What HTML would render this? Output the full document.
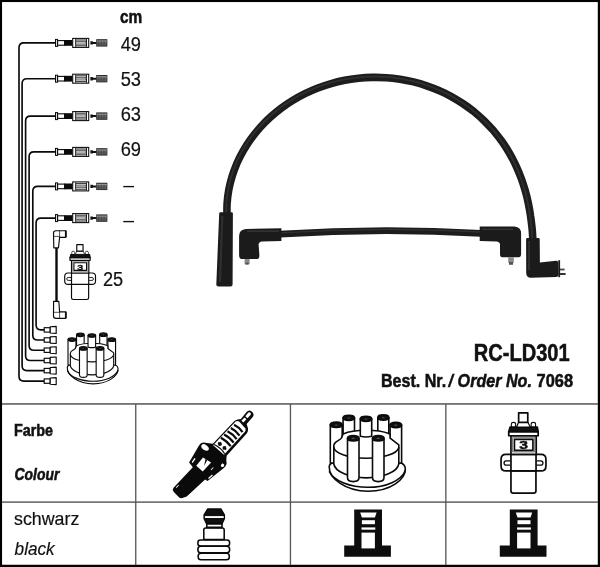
<!DOCTYPE html>
<html lang="de">
<head>
<meta charset="utf-8">
<title>RC-LD301</title>
<style>
html,body{margin:0;padding:0;background:#fff;}
body{width:600px;height:567px;overflow:hidden;position:relative;font-family:"Liberation Sans",sans-serif;}
svg{position:absolute;left:0;top:0;display:block;filter:grayscale(1);}
text{font-family:"Liberation Sans",sans-serif;fill:#111;}
.b{font-weight:bold;stroke:#111;stroke-width:0.55px;}
.r{stroke:#111;stroke-width:0.2px;}
.i{font-style:italic;}
</style>
</head>
<body>
<svg width="600" height="567" viewBox="0 0 600 567">
<rect x="0" y="0" width="600" height="567" fill="#fff"/>

<g id="frame" fill="#000">
<rect x="0" y="0" width="600" height="2.05"/>
<rect x="0" y="0" width="2.05" height="567"/>
<rect x="597.8" y="0" width="2.2" height="567"/>
<rect x="0" y="564.75" width="600" height="2.25"/>
</g>
<g id="grid" fill="#555">
<rect x="2" y="403.2" width="596" height="1.5"/>
<rect x="2" y="501.4" width="596" height="1.4"/>
<rect x="135.1" y="404" width="1.3" height="161"/>
<rect x="289.8" y="404" width="1.3" height="161"/>
<rect x="445.2" y="404" width="1.3" height="161"/>
</g>

<g id="labels">
<text class="b" transform="translate(120.0,23.3) scale(0.81,1)" font-size="19">cm</text>
<text class="r" transform="translate(120.7,50.5) scale(0.905,1)" font-size="20.2">49</text>
<text class="r" transform="translate(120.7,85.7) scale(0.905,1)" font-size="20.2">53</text>
<text class="r" transform="translate(120.7,120.9) scale(0.905,1)" font-size="20.2">63</text>
<text class="r" transform="translate(120.7,156.1) scale(0.905,1)" font-size="20.2">69</text>
<text class="" transform="translate(123.3,191.6) scale(0.96,1)" font-size="20.2">–</text>
<text class="" transform="translate(123.3,226.8) scale(0.96,1)" font-size="20.2">–</text>
<text class="r" transform="translate(103.0,285.6) scale(0.9,1)" font-size="20.2">25</text>
<text class="b" transform="translate(473.8,361.4) scale(0.822,1)" font-size="24.4">RC-LD301</text>
<text class="b" transform="translate(381.0,387.4) scale(0.855,1)" font-size="18.8">Best. Nr.</text>
<text class="b i" transform="translate(448.6,387.4) scale(0.855,1)" font-size="18.8">/</text>
<text class="b i" transform="translate(457.6,387.4) scale(0.858,1)" font-size="18.8">Order No.</text>
<text class="b" transform="translate(536.6,387.4) scale(0.873,1)" font-size="18.8">7068</text>
<text class="b" transform="translate(13.9,435.8) scale(0.882,1)" font-size="16.3">Farbe</text>
<text class="b i" transform="translate(14.6,479.7) scale(0.853,1)" font-size="16.3">Colour</text>
<text class="r" transform="translate(14.0,525.0) scale(0.928,1)" font-size="19.2">schwarz</text>
<text class="i r" transform="translate(14.6,555.0) scale(0.895,1)" font-size="19.2">black</text>
</g>
<g id="harness" fill="none" stroke="#0a0a0a" stroke-width="1.65" stroke-linejoin="round">
<path d="M55.5 42.9 H23.8 Q19.0 42.9 19.0 47.699999999999996 V376.3 Q19.0 381.1 23.8 381.1 H44.2"/>
<path d="M55.5 78.7 H26.900000000000002 Q22.1 78.7 22.1 83.5 V365.8 Q22.1 370.6 26.900000000000002 370.6 H44.2"/>
<path d="M55.5 116.1 H30.400000000000002 Q25.6 116.1 25.6 120.89999999999999 V355.7 Q25.6 360.5 30.400000000000002 360.5 H44.2"/>
<path d="M55.5 151.9 H33.9 Q29.1 151.9 29.1 156.70000000000002 V345.4 Q29.1 350.2 33.9 350.2 H44.2"/>
<path d="M55.5 186.4 H37.599999999999994 Q32.8 186.4 32.8 191.20000000000002 V335.2 Q32.8 340.0 37.599999999999994 340.0 H44.2"/>
<path d="M55.5 218.1 H40.9 Q36.1 218.1 36.1 222.9 V325.09999999999997 Q36.1 329.9 40.9 329.9 H44.2"/>
</g>
<defs>
<g id="conn">
<rect x="55.5" y="-3.5" width="2.1" height="7" fill="#ddd" stroke="#0a0a0a" stroke-width="1"/>
<rect x="57.6" y="-2.3" width="7" height="4.6" fill="#fff" stroke="#0a0a0a" stroke-width="1.1"/>
<rect x="64.2" y="-2.9" width="8.4" height="5.8" fill="#0a0a0a"/>
<rect x="72.7" y="-4.5" width="16" height="9" fill="#fff" stroke="#111" stroke-width="1.1"/>
<rect x="75.6" y="-3.5" width="10.6" height="1.2" fill="#444"/>
<rect x="75.6" y="2.3" width="10.6" height="1.2" fill="#444"/>
<rect x="75.9" y="-1.3" width="10" height="2.6" fill="#e4e4e4" stroke="#333" stroke-width="0.7"/>
<path d="M77 0 H85" stroke="#777" stroke-width="0.7" fill="none"/>
<rect x="75.2" y="-4" width="0.9" height="8" fill="#222"/>
<rect x="86" y="-4" width="1" height="8" fill="#222"/>
<path d="M90.4 -1.7 L92.6 -1.7 L93.2 -1 L96.5 -1 L96.5 1 L93.2 1 L92.6 1.7 L90.4 1.7 Z" fill="#111"/>
<rect x="96.7" y="-3.2" width="10.2" height="6.4" fill="#777" stroke="#222" stroke-width="0.9"/>
<path d="M98.4 -3V3 M100 -3V3 M101.6 -3V3 M103.2 -3V3 M104.8 -3V3" stroke="#333" stroke-width="0.7" fill="none"/>
<path d="M96.7 -1.9 H106.9" stroke="#aaa" stroke-width="0.7"/>
<path d="M96.7 1.2 H106.9" stroke="#444" stroke-width="0.6"/>
</g>
<g id="term">
<rect x="44.2" y="-2.2" width="6" height="4.4" fill="#fff" stroke="#0a0a0a" stroke-width="1.15"/>
<path d="M50.2 -3.1 L56.2 -3.5 L56.2 3.5 L50.2 3.1 Z" fill="#fff" stroke="#0a0a0a" stroke-width="1.15" stroke-linejoin="round"/>
</g>
</defs>
<g id="connectors">
<use href="#conn" y="42.9"/>
<use href="#conn" y="78.7"/>
<use href="#conn" y="116.1"/>
<use href="#conn" y="151.9"/>
<use href="#conn" y="186.4"/>
<use href="#conn" y="218.1"/>
<use href="#term" y="381.1"/>
<use href="#term" y="370.6"/>
<use href="#term" y="360.5"/>
<use href="#term" y="350.2"/>
<use href="#term" y="340.0"/>
<use href="#term" y="329.9"/>
</g>
<g id="coillead" fill="#fff" stroke="#0a0a0a" stroke-width="1.15" stroke-linejoin="round">
<path d="M56.5 247.8 V301.3" stroke-width="2.4" fill="none"/>
<path d="M53.5 233 Q53.5 230.7 56 230.7 H65.5 V237.3 H59.6 L58.5 247.8 H53.8 Z"/>
<path d="M59.6 230.7 V237.3 M53.5 236.4 H59.6" fill="none" stroke-width="0.7"/>
<rect x="65.2" y="230.5" width="1.6" height="7" fill="#111" stroke="none"/>
<path d="M53.6 301.3 H58.8 L59.6 311.8 H65.5 V318.3 H56 Q53.5 318.3 53.5 316 Z"/>
<path d="M59.6 311.8 V318.3 M53.5 312.3 H59.6" fill="none" stroke-width="0.7"/>
<rect x="65.2" y="311.6" width="1.6" height="6.9" fill="#111" stroke="none"/>
</g><defs>
<g id="coil" stroke="#0a0a0a" stroke-linejoin="round" fill="#fff">
<path d="M505.5 454.4 H541.5 Q546.6 454.4 546.6 459.5 V466.1 Q546.6 471.2 541.5 471.2 H505.5 Q500.4 471.2 500.4 466.1 V459.5 Q500.4 454.4 505.5 454.4 Z"/>
<path d="M510 461 H505.6 Q503.5 461 503.5 463.2 Q503.5 465.4 505.6 465.4 H510" fill="none" stroke-width="1.3"/>
<path d="M537 461 H541.4 Q543.5 461 543.5 463.2 Q543.5 465.4 541.4 465.4 H537" fill="none" stroke-width="1.3"/>
<path d="M510.6 471.2 H536.3 V491.3 Q536.3 493.8 533.8 493.8 H513.1 Q510.6 493.8 510.6 491.3 Z"/>
<rect x="510.6" y="454.4" width="25.8" height="16.8"/>
<rect x="510.6" y="435.5" width="26" height="18.9"/>
<rect x="512.3" y="437.5" width="22.8" height="14.4" fill="none" stroke-width="0.6"/>
<rect x="514.2" y="439.1" width="19" height="11.3" stroke-width="1.7"/>
<rect x="508.3" y="431.4" width="30.3" height="4.1"/>
<path d="M511 427.3 V423.6 Q511 421.9 513.1 421.9 Q515.4 421.9 515.4 423.6 V427.3 Z" stroke-width="1.1"/>
<path d="M531.4 427.3 V423.6 Q531.4 421.9 533.7 421.9 Q535.9 421.9 535.9 423.6 V427.3 Z" stroke-width="1.1"/>
<path d="M509.7 426.8 H537.7 L538.6 431.4 H508.3 Z" fill="#111"/>
<path d="M518.4 421.8 L516.4 426.6 H530.4 L528 421.8 Z" stroke-width="1.2"/>
<rect x="518.5" y="412.2" width="9.4" height="9.6"/>
<text x="523.7" y="449.3" font-size="11.5" font-weight="bold" text-anchor="middle" stroke="#0a0a0a" stroke-width="0.45" fill="#0a0a0a" transform="translate(523.7 0) scale(1.4 1) translate(-523.7 0)">3</text>
</g>
<g id="cap" stroke="#0a0a0a" stroke-linejoin="round" stroke-linecap="round" fill="#fff">
<path d="M333.6 462.6 Q329.6 463.2 329.2 466.6 C328.8 478 345 491.2 368 491.2 C391 491.2 405.8 479 405.3 468.6 Q405 463.4 399.2 462.6 Z"/>
<path d="M329.5 471.8 C334 481 350 487.3 368 487.3 C386 487.3 401.5 480.5 405.2 470.8" fill="none"/>
<path d="M330.3 424.8 V463 H342.2 V424.8 Z"/>
<ellipse cx="336.25" cy="424.8" rx="5.95" ry="2.7" fill="#111"/><ellipse cx="336.25" cy="425.0" rx="1.67" ry="0.59" fill="#555" stroke="none"/>
<path d="M390.1 425 V463 H401.6 V425 Z"/>
<ellipse cx="395.85" cy="425" rx="5.75" ry="2.7" fill="#111"/><ellipse cx="395.85" cy="425.2" rx="1.61" ry="0.59" fill="#555" stroke="none"/>
<path d="M343.1 417.8 V436 H354.5 V417.8 Z"/>
<ellipse cx="348.8" cy="417.8" rx="5.7" ry="2.6" fill="#111"/><ellipse cx="348.8" cy="418.0" rx="1.60" ry="0.57" fill="#555" stroke="none"/>
<path d="M377.8 417.5 V436 H388.8 V417.5 Z"/>
<ellipse cx="383.3" cy="417.5" rx="5.5" ry="2.6" fill="#111"/><ellipse cx="383.3" cy="417.7" rx="1.54" ry="0.57" fill="#555" stroke="none"/>
<path d="M333.8 464 V445.3 C334.2 440.5 341.8 440.8 342.2 436.2 L343.1 434 C350 431 358 430.3 366 430.3 C374 430.3 383 431.2 388.8 433.6 L390.1 434.5 V438.2 L398.8 444.8 V464 A32.6 15 0 0 1 333.8 464 Z"/>
<path d="M333.8 447.3 A32.6 11.6 0 0 0 398.8 447.8" fill="none"/>
<path d="M360.3 418.8 V436.2 Q366 437.8 371.7 436.2 V418.8 Z"/>
<ellipse cx="366" cy="418.8" rx="5.7" ry="2.6" fill="#111"/><ellipse cx="366" cy="419.0" rx="1.60" ry="0.57" fill="#555" stroke="none"/>
<path d="M347.5 438.2 V477.5 Q347.5 481.6 353.2 481.6 Q359 481.6 359 477.5 V438.2 Z"/>
<ellipse cx="353.25" cy="438.2" rx="5.75" ry="2.7" fill="#111"/><ellipse cx="353.25" cy="438.4" rx="1.61" ry="0.59" fill="#555" stroke="none"/>
<path d="M372.5 438.2 V477.5 Q372.5 481.6 378.2 481.6 Q384 481.6 384 477.5 V438.2 Z"/>
<ellipse cx="378.25" cy="438.2" rx="5.75" ry="2.7" fill="#111"/><ellipse cx="378.25" cy="438.4" rx="1.61" ry="0.59" fill="#555" stroke="none"/>
</g>
<g id="sock">
<path d="M354.2 509.5 H382 V545.5 H390.9 V556.7 H344.2 V545.5 H354.2 Z" fill="#0d0d0d"/>
<path d="M360.2 512.6 H376.6 L374.9 517.6 H361.9 Z" fill="#fff"/>
<rect x="361.9" y="520.2" width="13" height="4" fill="#fff"/>
<rect x="361.5" y="527.4" width="13.8" height="2.3" fill="#fff"/>
<rect x="361.5" y="532.6" width="13.4" height="15.8" fill="#fff"/>
</g>
</defs>
<use href="#coil" stroke-width="1.75" transform="translate(523.5 453) scale(0.972 0.985) translate(-523.5 -453)"/>
<use href="#coil" transform="translate(-274.3 -34.6) scale(0.677) translate(523.5 453) scale(0.985 0.992) translate(-523.5 -453)" stroke-width="1.75"/>
<use href="#cap" stroke-width="1.6"/>
<use href="#cap" transform="translate(-152.3 56.2) scale(0.667)" stroke-width="1.7"/>
<use href="#sock"/>
<use href="#sock" x="155.6"/>
<g id="boot" stroke="#0a0a0a" stroke-width="1.55" stroke-linejoin="round" fill="#fff">
<rect x="197.9" y="539.9" width="31.7" height="6.1" rx="2.6"/>
<rect x="197.9" y="546.3" width="31.7" height="6.6" rx="2.8"/>
<rect x="198.2" y="553.2" width="31.1" height="6.6" rx="2.8"/>
<path d="M203.8 539.4 V530 Q203.8 528 205.8 528 H222.2 Q224.2 528 224.2 530 V539.4 Z"/>
<rect x="206.8" y="523.8" width="15.2" height="3.6"/>
<path d="M207.8 509 H220.8 L224.3 514.8 V518.6 L222 523.6 H206.6 L204.2 518.6 V514.8 Z" fill="#111"/>
<rect x="204.9" y="516.1" width="18.8" height="1.9" fill="#fff" stroke="none"/>
</g>
<g id="plug" transform="translate(180 492) rotate(41.2)">
<path d="M-7.7 1 Q-7.7 3.6 -5 4 L2.6 4.6 Q4.6 4.6 5.8 3 L8.1 -1 L10.6 -26 L13.5 -26.4 L17.1 -47 Q18 -52 14.4 -53.8 L11.2 -58 L11.6 -88 Q11.4 -91.5 8 -93.5 L5.4 -95 L5.4 -104 Q5.2 -107.8 1.2 -107.8 Q-2.6 -107.8 -2.6 -104 L-2.2 -95 L-4.4 -92.6 Q-5.8 -91 -5.8 -88.5 L-7.1 -58 L-12 -54.5 Q-17.4 -52.6 -16.3 -47 L-12.6 -28.2 L-6.6 -27 Z" fill="#0a0a0a"/>
<path d="M-4.5 -89.6 Q-4 -91.6 -1.5 -92 L7 -91 Q9.2 -90.2 9.2 -88 L8.5 -57 L-5.9 -57 Z" fill="#fff"/>
<path d="M-3.6 -86.2 Q2 -87.8 7.6 -86.2 M-3.9 -81.6 Q2 -83.2 7.7 -81.6 M-4.3 -77 Q2 -78.6 7.8 -77 M-4.7 -72.4 Q2 -74 7.9 -72.4 M-5 -67.8 Q2 -69.4 8 -67.8" stroke="#0a0a0a" stroke-width="2.2" fill="none"/>
<path d="M-3.8 -62.4 H0.4 M2.6 -62.4 H6.6 M-1.6 -64.4 V-60.4 M4.4 -64.4 V-60.4" stroke="#0a0a0a" stroke-width="2" fill="none"/><path d="M-5.6 -58.2 Q1.5 -60.2 8.4 -58.2" stroke="#0a0a0a" stroke-width="1.2" fill="none"/>
<path d="M-0.9 -104.4 Q-0.9 -106 0.7 -106 Q2.3 -106 2.3 -104.4 L2.1 -100 L-0.7 -100 Z" fill="#fff"/>
<path d="M-0.6 -98.6 L2 -98.6 L2 -94 L-0.8 -94 Z" fill="#fff"/>
<path d="M-5 -30.4 L3.6 -30.4 L4 -42.6 L-5.4 -41 Z" fill="#fff"/>
<path d="M-0.6 -42 L1 -35.5 L-2.6 -41.6 Z" fill="#0a0a0a"/>
<path d="M-14.8 -50 Q-14.6 -47 -10 -47.4 Q-6 -48 -6.2 -50.6 Q-7 -53 -11 -52.6 Q-14.6 -52.2 -14.8 -50 Z" fill="#fff"/>
<path d="M13 -49.6 Q15.4 -50.4 16.2 -48.6 Q16.4 -46.6 14.4 -46.2 Q12.6 -46.4 13 -49.6 Z" fill="#fff"/>
<path d="M-10.8 -30 L-9.6 -30.3 L-10.2 -35.3 L-11.5 -35 Z" fill="#fff"/>
<path d="M11.9 -29 L13.2 -28.8 L13.9 -34 L12.6 -34.3 Z" fill="#fff"/>
<path d="M8.3 -37 L9.1 -37 L9.3 -40.5 L8.5 -40.5 Z" fill="#fff"/>
<path d="M-6.2 -0.6 L-5.3 -0.6 L-5.1 -4.4 L-6 -4.4 Z" fill="#fff"/>
</g>
<g id="photo">
<path d="M227.0 217.3 C227.0 215.0 226.8 208.1 227.1 203.5 C227.4 198.9 228.0 194.2 228.8 189.7 C229.7 185.1 230.8 180.6 232.2 176.1 C233.6 171.6 235.3 167.2 237.1 162.9 C239.0 158.6 241.2 154.4 243.5 150.4 C245.9 146.3 248.4 142.3 251.2 138.5 C254.0 134.7 257.0 131.0 260.1 127.5 C263.3 124.0 266.6 120.6 270.1 117.4 C273.6 114.3 277.2 111.2 281.0 108.4 C284.7 105.6 288.6 102.9 292.6 100.5 C296.7 98.0 300.8 95.8 305.0 93.7 C309.2 91.6 313.5 89.7 317.9 88.0 C322.2 86.4 326.7 84.9 331.2 83.6 C335.6 82.3 340.2 81.2 344.7 80.3 C349.3 79.4 353.9 78.8 358.5 78.3 C363.1 77.8 367.8 77.5 372.4 77.4 C377.0 77.3 381.7 77.4 386.3 77.7 C390.9 78.0 395.5 78.6 400.0 79.3 C404.5 80.0 409.1 80.9 413.5 81.9 C418.0 83.0 422.4 84.3 426.7 85.8 C431.1 87.3 435.4 88.9 439.5 90.8 C443.7 92.6 447.8 94.6 451.8 96.8 C455.8 99.1 459.7 101.4 463.5 104.0 C467.3 106.5 470.9 109.3 474.5 112.1 C478.0 115.0 481.4 118.0 484.6 121.2 C487.8 124.4 490.9 127.7 493.9 131.1 C496.8 134.6 499.6 138.2 502.2 141.8 C504.8 145.5 507.2 149.3 509.5 153.2 C511.7 157.1 513.8 161.1 515.7 165.1 C517.6 169.2 519.3 173.3 520.9 177.5 C522.5 181.6 523.8 185.9 525.1 190.2 C526.3 194.4 527.4 198.8 528.3 203.1 C529.2 207.5 530.0 211.9 530.6 216.3 C531.3 220.7 531.7 225.1 532.2 229.5 C532.6 234.0 532.9 240.7 533.1 243.0" fill="none" stroke="#1d1d1d" stroke-width="7.6"/>
<path d="M227.0 217.3 C227.0 215.0 226.8 208.1 227.1 203.5 C227.4 198.9 228.0 194.2 228.8 189.7 C229.7 185.1 230.8 180.6 232.2 176.1 C233.6 171.6 235.3 167.2 237.1 162.9 C239.0 158.6 241.2 154.4 243.5 150.4 C245.9 146.3 248.4 142.3 251.2 138.5 C254.0 134.7 257.0 131.0 260.1 127.5 C263.3 124.0 266.6 120.6 270.1 117.4 C273.6 114.3 277.2 111.2 281.0 108.4 C284.7 105.6 288.6 102.9 292.6 100.5 C296.7 98.0 300.8 95.8 305.0 93.7 C309.2 91.6 313.5 89.7 317.9 88.0 C322.2 86.4 326.7 84.9 331.2 83.6 C335.6 82.3 340.2 81.2 344.7 80.3 C349.3 79.4 353.9 78.8 358.5 78.3 C363.1 77.8 367.8 77.5 372.4 77.4 C377.0 77.3 381.7 77.4 386.3 77.7 C390.9 78.0 395.5 78.6 400.0 79.3 C404.5 80.0 409.1 80.9 413.5 81.9 C418.0 83.0 422.4 84.3 426.7 85.8 C431.1 87.3 435.4 88.9 439.5 90.8 C443.7 92.6 447.8 94.6 451.8 96.8 C455.8 99.1 459.7 101.4 463.5 104.0 C467.3 106.5 470.9 109.3 474.5 112.1 C478.0 115.0 481.4 118.0 484.6 121.2 C487.8 124.4 490.9 127.7 493.9 131.1 C496.8 134.6 499.6 138.2 502.2 141.8 C504.8 145.5 507.2 149.3 509.5 153.2 C511.7 157.1 513.8 161.1 515.7 165.1 C517.6 169.2 519.3 173.3 520.9 177.5 C522.5 181.6 523.8 185.9 525.1 190.2 C526.3 194.4 527.4 198.8 528.3 203.1 C529.2 207.5 530.0 211.9 530.6 216.3 C531.3 220.7 531.7 225.1 532.2 229.5 C532.6 234.0 532.9 240.7 533.1 243.0" fill="none" stroke="#3a3a3a" stroke-width="1.6" transform="translate(-0.6 -0.8)" opacity="0.7"/>
<path d="M280 234.2 Q380 227.6 481 233.4" fill="none" stroke="#1d1d1d" stroke-width="6.7"/>
<path d="M280 232.8 Q380 226.2 481 232" fill="none" stroke="#3a3a3a" stroke-width="1.3" opacity="0.7"/>
<path d="M220.4 212.3 H231.7 Q232.9 212.3 232.9 213.6 L232.6 284.4 Q232.6 286.5 230.4 286.5 H218.4 Q216.2 286.5 216.3 284.4 L219.2 213.6 Q219.2 212.3 220.4 212.3 Z" fill="#1b1b1b"/>
<path d="M222.3 216 L220 282" fill="none" stroke="#353535" stroke-width="2.2" opacity="0.8"/>
<path d="M281.4 228.2 L246 229 Q239.1 229.6 239.1 236 L239.1 255 Q239.2 259.1 241.5 259.1 H257 Q259.4 259.1 259.4 255.5 L258.6 244.5 Q258.8 241.6 262 241.4 L281.4 240.9 Z" fill="#1b1b1b"/>
<rect x="244.6" y="259" width="5" height="5.2" fill="#8a8a8a"/><rect x="245.4" y="262.6" width="3.2" height="2" fill="#555"/>
<path d="M247 231.2 H279" stroke="#383838" stroke-width="1.6" opacity="0.8" fill="none"/>
<path d="M479.7 226.5 L514.5 226.5 Q521.1 227 521.1 233.5 L521.1 254 Q521 257.3 518.6 257.3 H502.4 Q500 257.3 500 254 L500 244.5 Q499.8 241.6 496.5 241.4 L479.7 240.9 Z" fill="#1b1b1b"/>
<rect x="508.2" y="257.2" width="5.6" height="5.6" fill="#8a8a8a"/><rect x="509" y="262" width="4" height="2.8" fill="#555"/>
<path d="M482 229.4 H513" stroke="#383838" stroke-width="1.6" opacity="0.8" fill="none"/>
<path d="M527.4 237.9 H538.4 Q539.7 237.9 539.7 239.2 L539.9 262.4 L556 260.8 Q558.2 260.6 558.3 262.8 L558.6 274.6 Q558.6 276.8 556.4 276.9 L531 277.7 Q526.3 277.8 526.2 273 L526.1 239.2 Q526.1 237.9 527.4 237.9 Z" fill="#1b1b1b"/>
<rect x="558.3" y="260.2" width="1.8" height="17" fill="#1b1b1b"/>
<rect x="560" y="268.6" width="4.6" height="1.8" fill="#444"/><rect x="560" y="273" width="5.6" height="2" fill="#333"/>
<path d="M529 241 V270" stroke="#383838" stroke-width="1.8" opacity="0.8" fill="none"/>
</g>
</svg>
</body>
</html>
